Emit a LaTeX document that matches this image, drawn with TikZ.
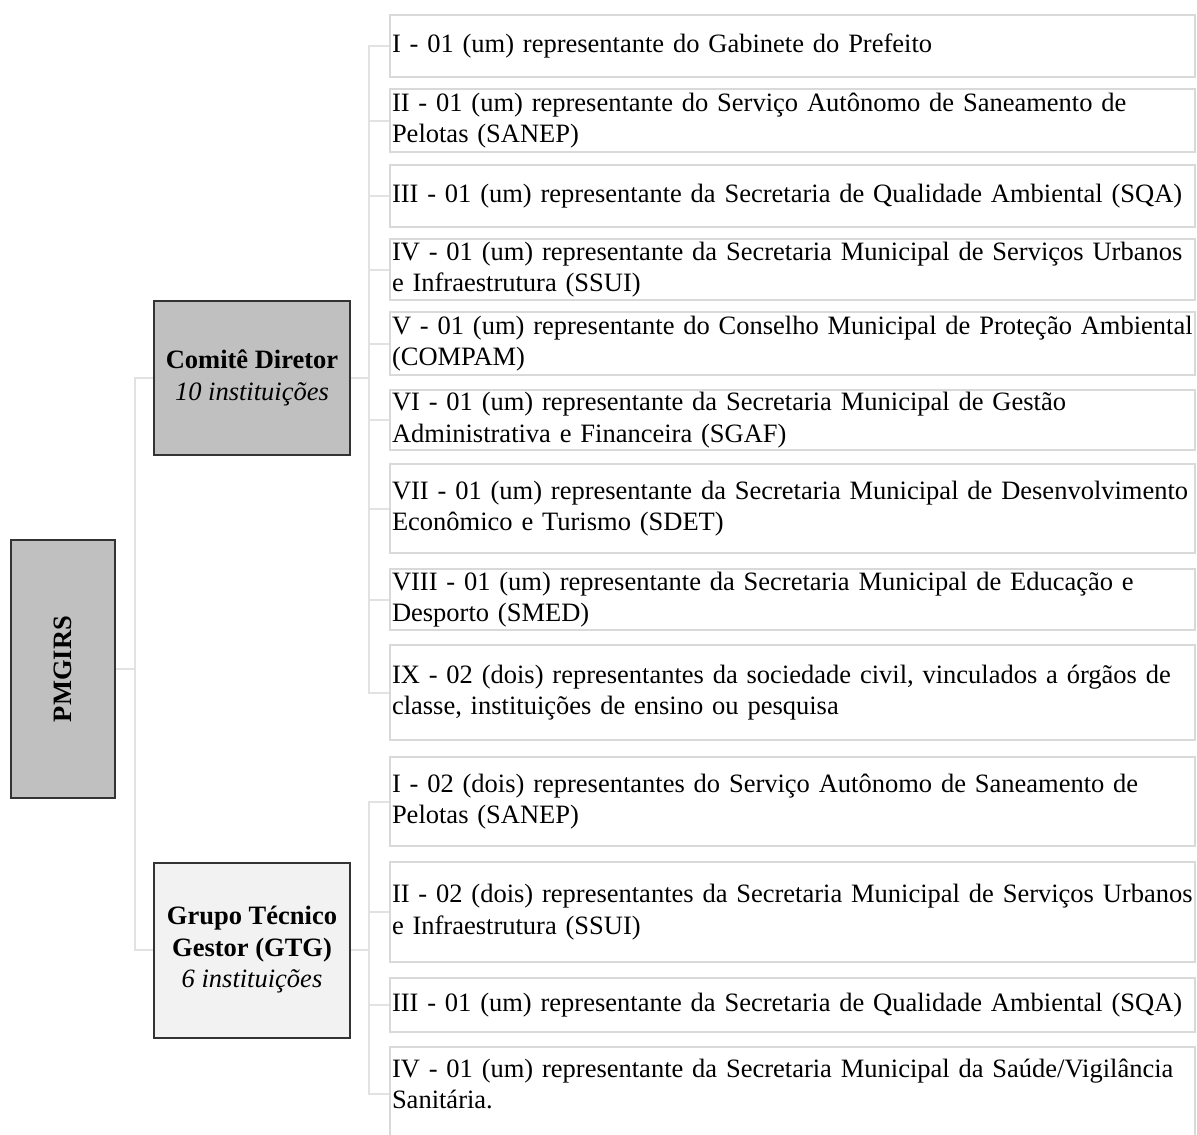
\documentclass[tikz,border=0pt]{standalone}
\usepackage{fontspec}
\setmainfont{Liberation Serif}
\definecolor{conncol}{HTML}{E2E2E2}
\definecolor{itemcol}{HTML}{D9D9D9}
\definecolor{darkcol}{HTML}{333333}
\definecolor{silvercol}{HTML}{C0C0C0}
\definecolor{palecol}{HTML}{F2F2F2}
\begin{document}
\begin{tikzpicture}[x=1pt,y=-1pt,
  every node/.style={font=\fontsize{26.5}{31.5}\selectfont},
  conn/.style={draw=conncol,line width=2pt},
  item/.style={draw=itemcol,line width=1.5pt,fill=white,text width=801pt,inner xsep=2pt,inner ysep=0pt,align=left,minimum height=#1},
  head/.style={draw=darkcol,line width=2pt,align=center,inner sep=0pt}
]
\useasboundingbox (0,0) rectangle (1197,1135);
% left root
\node[head,fill=silvercol,minimum width=104pt,minimum height=258pt] (pm) at (63,669) {};
\node[rotate=90,font=\fontsize{26.5}{31.5}\selectfont\bfseries] (pmt) at (pm.center) {PMGIRS};
\node[head,fill=silvercol,minimum width=196pt,minimum height=154pt] (cd) at (252,378) {\textbf{Comitê Diretor}\\\textit{10 instituições}};
\node[head,fill=palecol,minimum width=196pt,minimum height=175pt] (gt) at (252,950) {\textbf{Grupo Técnico}\\\textbf{Gestor (GTG)}\\\textit{6 instituições}};
% items Comite
\node[item=62pt] (c1) at (792.5,46) {I - 01 (um) representante do Gabinete do Prefeito};
\node[item=63pt] (c2) at (792.5,120.5) {II - 01 (um) representante do Serviço Autônomo de Saneamento de\\Pelotas (SANEP)};
\node[item=62pt] (c3) at (792.5,196) {III - 01 (um) representante da Secretaria de Qualidade Ambiental (SQA)};
\node[item=61pt] (c4) at (792.5,269.5) {IV - 01 (um) representante da Secretaria Municipal de Serviços Urbanos\\e Infraestrutura (SSUI)};
\node[item=63pt] (c5) at (792.5,343.5) {V - 01 (um) representante do Conselho Municipal de Proteção Ambiental\\(COMPAM)};
\node[item=60pt] (c6) at (792.5,420) {VI - 01 (um) representante da Secretaria Municipal de Gestão\\Administrativa e Financeira (SGAF)};
\node[item=89pt] (c7) at (792.5,508.5) {VII - 01 (um) representante da Secretaria Municipal de Desenvolvimento\\Econômico e Turismo (SDET)};
\node[item=61pt] (c8) at (792.5,599.5) {VIII - 01 (um) representante da Secretaria Municipal de Educação e\\Desporto (SMED)};
\node[item=95pt] (c9) at (792.5,692.5) {IX - 02 (dois) representantes da sociedade civil, vinculados a órgãos de\\classe, instituições de ensino ou pesquisa};
% items GTG
\node[item=89pt] (g1) at (792.5,801.5) {I - 02 (dois) representantes do Serviço Autônomo de Saneamento de\\Pelotas (SANEP)};
\node[item=100pt] (g2) at (792.5,912) {II - 02 (dois) representantes da Secretaria Municipal de Serviços Urbanos\\e Infraestrutura (SSUI)};
\node[item=54pt] (g3) at (792.5,1005) {III - 01 (um) representante da Secretaria de Qualidade Ambiental (SQA)};
\node[item=93pt] (g4) at (792.5,1093.5) {IV - 01 (um) representante da Secretaria Municipal da Saúde/Vigilância\\Sanitária.\\[-12pt]\mbox{}};
% connectors
\coordinate (trunk) at (135,669);
\draw[conn] (pm.east) -- (trunk);
\draw[conn] (cd.west) -| (trunk) |- (gt.west);
\coordinate (cdj) at (369,378);
\draw[conn] (cd.east) -- (cdj);
\foreach \i in {1,...,9} {\draw[conn] (cdj) |- (c\i.west);}
\coordinate (gtj) at (369,950);
\draw[conn] (gt.east) -- (gtj);
\foreach \i in {1,...,4} {\draw[conn] (gtj) |- (g\i.west);}
\end{tikzpicture}
\end{document}
